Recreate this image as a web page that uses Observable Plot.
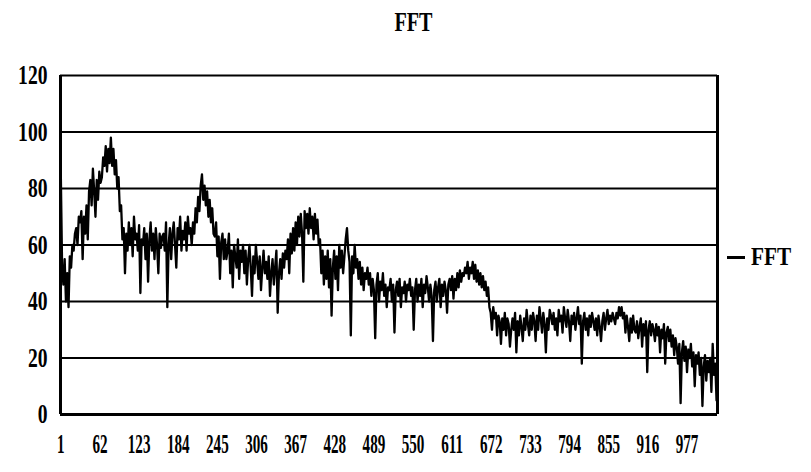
<!DOCTYPE html>
<html><head><meta charset="utf-8">
<script src="https://cdn.jsdelivr.net/npm/d3@7"></script>
<script src="https://cdn.jsdelivr.net/npm/@observablehq/plot@0.6"></script>
<style>
body{margin:0;background:#fff;}
#wrap{position:relative;width:811px;height:472px;font-family:"Liberation Serif",serif;color:#000;}
#chart{position:absolute;left:0;top:0;}
#title{position:absolute;left:8px;width:811px;top:6px;text-align:center;font-size:28px;line-height:32px;font-weight:bold;transform:scaleX(0.72);}
#legend{position:absolute;left:727px;top:243px;font-size:25px;line-height:28px;display:flex;align-items:center;font-weight:bold;}
#legend .sw{display:inline-block;width:18px;height:3px;background:#000;margin-right:6px;}
#legend .lt{display:inline-block;transform:scaleX(0.85);transform-origin:left center;}
</style></head><body>
<div id="wrap"><div id="chart"></div><div id="title">FFT</div><div id="legend"><span class="sw"></span><span class="lt">FFT</span></div></div>
<script>
// FFT magnitude (every 2nd bin)
const values = [
85,52,46,55,40,50,38,56,52,60,58,64,66,60,70,68,
72,55,70,64,74,62,79,83,74,87,79,70,83,76,86,82,
84,91,88,95,86,94,89,98,88,94,85,90,80,84,72,74,
62,66,50,64,58,68,60,66,56,70,62,64,58,67,43,62,
60,66,55,64,47,62,68,58,64,55,66,60,50,64,59,63,
64,58,68,38,60,66,55,64,68,60,52,66,62,70,58,65,
62,68,58,70,64,66,60,68,64,73,68,77,72,81,85,76,
81,74,79,70,76,68,73,64,63,68,56,63,48,61,64,55,
62,55,58,64,50,58,45,60,56,52,62,48,58,54,60,50,
58,46,55,60,52,42,56,50,60,54,48,56,44,52,58,50,
54,48,56,42,50,55,46,52,58,36,50,55,48,57,52,58,
55,62,50,64,57,66,58,68,60,70,63,71,64,47,72,66,
71,64,73,66,70,62,71,64,69,60,62,50,58,46,56,48,
58,45,55,35,52,58,48,56,44,60,52,58,50,56,62,66,
58,54,28,56,50,60,52,55,48,54,46,52,44,50,48,52,
46,50,42,48,44,27,46,50,40,47,44,50,42,46,38,45,
44,48,40,46,29,44,47,42,48,38,45,43,47,40,46,44,
48,42,45,30,44,48,40,46,42,48,38,46,43,49,45,40,
46,42,26,44,47,40,45,48,38,46,42,47,44,36,46,48,
44,49,41,48,44,50,45,51,47,50,49,52,50,54,48,52,
50,54,48,53,47,51,46,50,45,49,44,47,42,45,38,36,
30,38,34,36,28,35,33,25,34,30,36,28,34,32,24,30,
34,30,36,22,33,28,35,31,26,34,30,37,32,28,35,30,
36,33,26,35,30,38,34,29,36,32,22,34,30,37,35,32,
36,30,34,28,37,33,35,29,38,34,31,37,33,26,35,32,
36,30,34,38,32,35,18,33,36,30,34,28,35,31,36,33,
30,34,28,35,31,26,33,36,30,34,37,32,35,33,36,34,
32,36,34,38,35,38,34,36,29,35,31,26,34,29,35,30,
29,33,27,31,34,24,32,28,33,15,30,33,28,32,30,26,
32,28,31,22,30,27,32,18,29,31,26,30,24,28,21,27,
24,18,25,4,22,26,19,24,15,23,20,25,17,22,10,21,
18,22,14,20,3,17,21,12,19,15,20,8,25,14,18,5
];
const binCount = 1024;
const bins = values.map((v, k) => 1 + 2 * k);
const xTickLabels = [1,62,123,184,245,306,367,428,489,550,611,672,733,794,855,916,977];
const yTicks = [0,20,40,60,80,100,120];
const data = values.map((v, k) => ({bin: bins[k], value: v}));

const chart = Plot.plot({
  width: 811, height: 472,
  marginLeft: 60, marginRight: 94, marginTop: 75, marginBottom: 58,
  style: {fontFamily: '"Liberation Serif", serif', fontSize: "28px", fontWeight: "bold", color: "#000", background: "#fff"},
  x: {domain: [0.5, binCount + 0.5], ticks: xTickLabels, tickSize: 0, tickPadding: 19, label: null, tickFormat: d => String(d)},
  y: {domain: [0, 120], ticks: yTicks, tickSize: 0, tickPadding: 13, label: null},
  marks: [
    Plot.ruleY(yTicks.filter(d => d > 0), {stroke: "#000", strokeWidth: 2}),
    Plot.ruleY([0], {stroke: "#000", strokeWidth: 3}),
    Plot.ruleX([0.5, binCount + 0.5], {stroke: "#000", strokeWidth: 3}),
    Plot.line(data, {x: "bin", y: "value", stroke: "#000", strokeWidth: 2.3})
  ]
});
document.getElementById("chart").appendChild(chart);
d3.select(chart).selectAll('g[aria-label="x-axis tick label"] text').attr("transform", function() {
  return (this.getAttribute("transform") || "") + " scale(0.54,1)";
});
d3.select(chart).selectAll('g[aria-label="y-axis tick label"] text').attr("transform", function() {
  return (this.getAttribute("transform") || "") + " scale(0.7,1)";
});
</script>
</body></html>
